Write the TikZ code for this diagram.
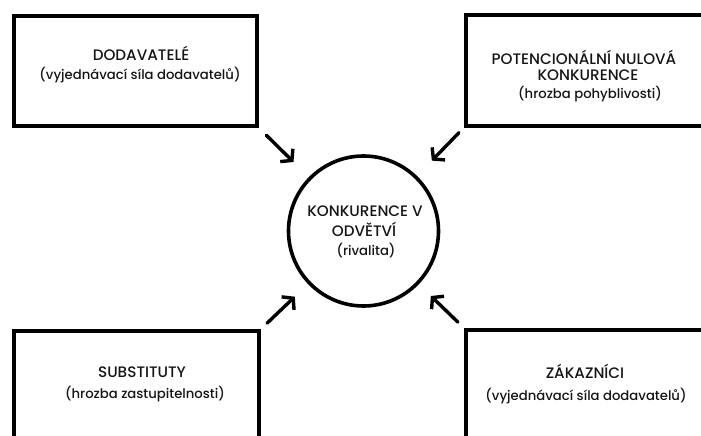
\documentclass[tikz,border=0pt]{standalone}
\usepackage{fontspec}
\setmainfont{Poppins}[UprightFont=* Medium]
\usetikzlibrary{arrows.meta,calc}
\definecolor{ink}{HTML}{151515}
\tikzset{
  box/.style={draw=black, line width=4pt, inner sep=0pt},
  ring/.style={draw=black, line width=3.6pt, circle, inner sep=0pt, minimum size=150pt},
  capline/.style={text=ink, anchor=base, inner sep=0pt, font=\fontsize{15.2}{18}\selectfont},
  subline/.style={text=ink, anchor=base, inner sep=0pt, font=\fontsize{13.2}{16}\selectfont},
  arr/.style={line width=3.4pt, -{Straight Barb[length=7.5pt,width=18pt]}, line cap=round}
}
\begin{document}
\begin{tikzpicture}[x=1pt,y=-1pt]
\useasboundingbox (0,0) rectangle (701,436);
\clip (0,0) rectangle (701,436);
% boxes
\node[box, minimum width=243pt, minimum height=110pt] (A) at (135.5,71) {};
\node[box, minimum width=254pt, minimum height=110pt] (B) at (593,70.5) {};
\node[box, minimum width=245pt, minimum height=120pt] (C) at (136.5,391) {};
\node[box, minimum width=254pt, minimum height=120pt] (D) at (593,390) {};
% centre circle
\node[ring] (K) at (363.5,231) {};
% labels
\node[capline] (tA1) at (141,61) {DODAVATELÉ};
\node[subline] (tA2) at (140,79.5) {(vyjednávací síla dodavatelů)};
\node[capline] (tB1) at (584,65) {POTENCIONÁLNÍ NULOVÁ};
\node[capline] (tB2) at (588,80.5) {KONKURENCE};
\node[subline] (tB3) at (590,98) {(hrozba pohyblivosti)};
\node[capline] (tK1) at (365,216) {KONKURENCE V};
\node[capline] (tK2) at (364,236.5) {ODVĚTVÍ};
\node[subline] (tK3) at (366,255) {(rivalita)};
\node[capline] (tC1) at (142,377) {SUBSTITUTY};
\node[subline] (tC2) at (145,398.5) {(hrozba zastupitelnosti)};
\node[capline] (tD1) at (585,378) {ZÁKAZNÍCI};
\node[subline] (tD2) at (586,400) {(vyjednávací síla dodavatelů)};
% arrows
\draw[arr] ($(A.south east)!0.07!(K.center)$) -- ($(A.south east)!0.33!(K.center)$);
\draw[arr] ($(B.south west)!0.05!(K.center)$) -- ($(B.south west)!0.32!(K.center)$);
\draw[arr] ($(C.north east)!0.06!(K.center)$) -- ($(C.north east)!0.33!(K.center)$);
\draw[arr] ($(D.north west)!0.06!(K.center)$) -- ($(D.north west)!0.33!(K.center)$);
\end{tikzpicture}
\end{document}
